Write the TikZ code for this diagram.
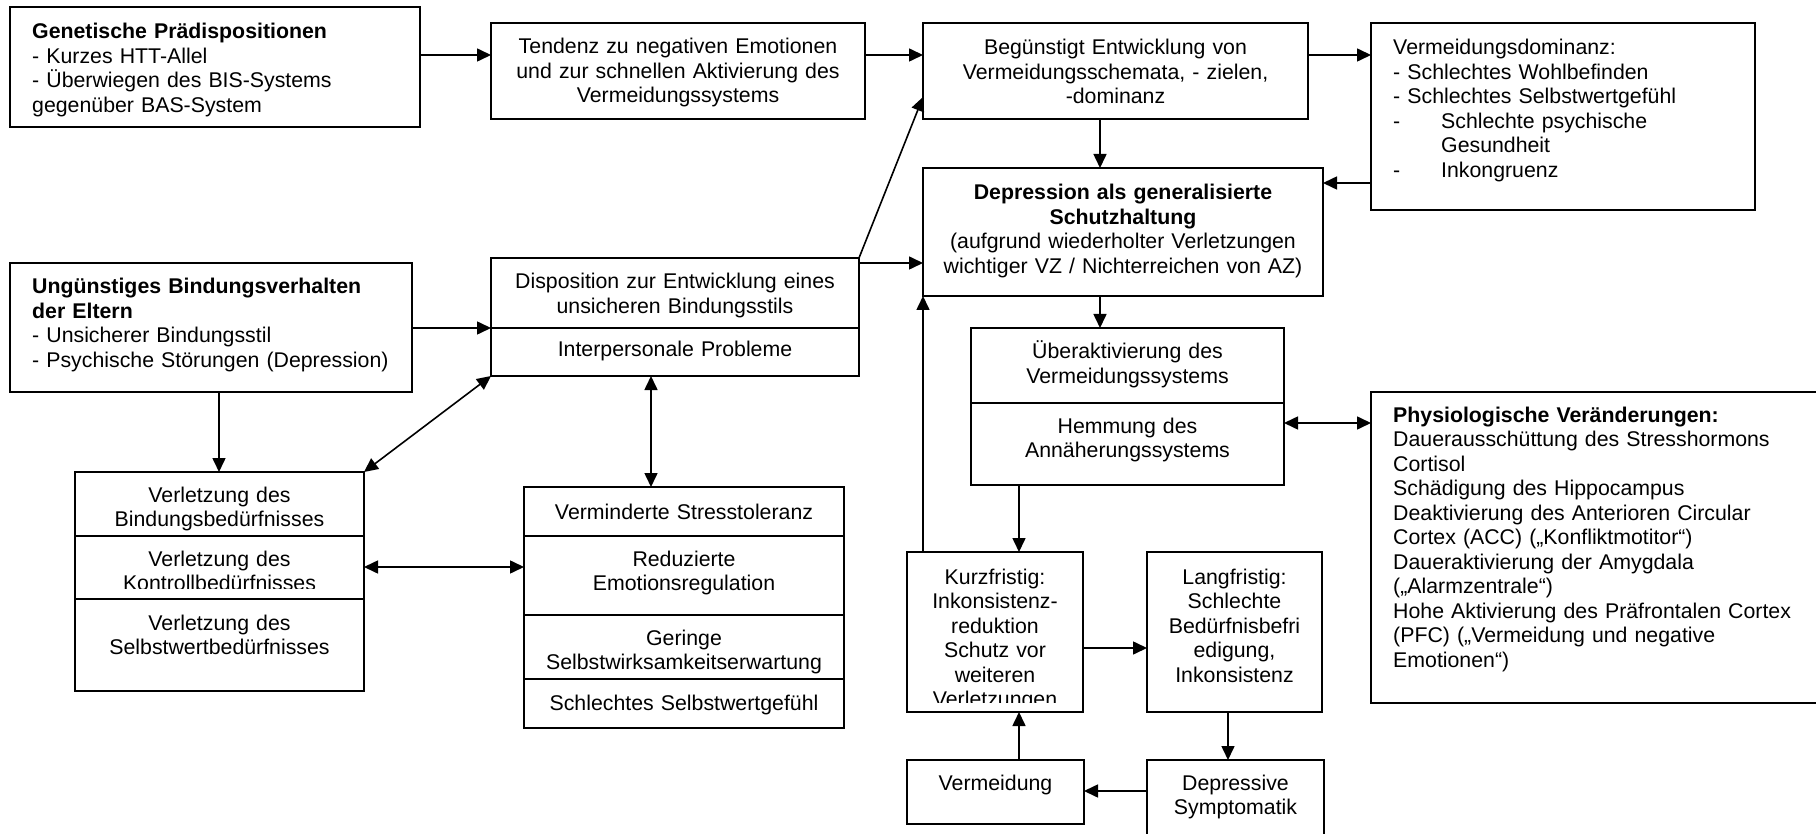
\documentclass[tikz,border=0pt]{standalone}
\usepackage{fontspec}
\setmainfont{Liberation Sans}
\usetikzlibrary{arrows.meta,fit}
\hyphenpenalty=10000
\exhyphenpenalty=10000
\begin{document}
\begin{tikzpicture}[x=1pt,y=-1pt,
  bx/.style={draw, line width=2pt, inner sep=0pt, outer sep=0pt},
  ctxt/.style={inner sep=0pt, anchor=base, align=center, text width=#1},
  ltxt/.style={inner sep=0pt, anchor=base west, align=left, text width=#1},
  arr/.style={line width=1.6pt, -{Triangle[length=14pt,width=13pt]}},
  darr/.style={line width=1.6pt, {Triangle[length=14pt,width=13pt]}-{Triangle[length=14pt,width=13pt]}},
  font=\fontsize{21.3}{24.5}\selectfont]
\path[use as bounding box] (0,0) rectangle (1816,834);
\fill[white] (0,0) rectangle (1816,834);
\clip (0,0) rectangle (1816,834);

% helper coordinates
\coordinate (h55) at (0,55);
\coordinate (h97) at (0,97);
\coordinate (h183) at (0,183);
\coordinate (h263) at (0,263);
\coordinate (h328) at (0,328);
\coordinate (h423) at (0,423);
\coordinate (h567) at (0,567);
\coordinate (h648) at (0,648);
\coordinate (h791) at (0,791);
\coordinate (v219) at (219,0);
\coordinate (v651) at (651,0);
\coordinate (v923) at (923,0);
\coordinate (v1019) at (1019,0);
\coordinate (v1100) at (1100,0);
\coordinate (v1228) at (1228,0);

% boxes
\node[bx, fit={(10,7) (420,127)}] (gen) {};
\node[bx, fit={(491,23) (865,119)}] (tend) {};
\node[bx, fit={(923,23) (1308,119)}] (beg) {};
\node[bx, fit={(1371,23) (1755,210)}] (vd) {};
\node[bx, fit={(923,168) (1323,296)}] (dep) {};
\node[bx, fit={(10,263) (412,392)}] (ung) {};
\node[bx, fit={(491,258) (859,328)}] (disp) {};
\node[bx, fit={(491,328) (859,376)}] (inter) {};
\node[bx, fit={(971,328) (1284,403)}] (ueb) {};
\node[bx, fit={(971,403) (1284,485)}] (hemm) {};
\node[bx, fit={(1371,392) (1820,703)}] (phys) {};
\node[bx, fit={(75,472) (364,536)}] (verlA) {};
\node[bx, fit={(75,536) (364,599)}] (verlB) {};
\node[bx, fit={(75,599) (364,691)}] (verlC) {};
\node[bx, fit={(524,487) (844,536)}] (vmA) {};
\node[bx, fit={(524,536) (844,615)}] (vmB) {};
\node[bx, fit={(524,615) (844,679)}] (vmC) {};
\node[bx, fit={(524,679) (844,728)}] (vmD) {};
\node[bx, fit={(907,552) (1083,712)}] (kurz) {};
\node[bx, fit={(1147,552) (1322,712)}] (lang) {};
\node[bx, fit={(907,760) (1084,824)}] (verm) {};
\node[bx, fit={(1147,760) (1324,840)}] (depr) {};

% texts
\node[ltxt=385pt] (gent) at (32,39) {\textbf{Genetische Prädispositionen}\\- Kurzes HTT-Allel\\- Überwiegen des BIS-Systems\\gegenüber BAS-System};
\node[ctxt=370pt] (tendt) at (678,54) {Tendenz zu negativen Emotionen\\und zur schnellen Aktivierung des\\Vermeidungssystems};
\node[ctxt=380pt] (begt) at (1115.5,55) {Begünstigt Entwicklung von\\Vermeidungsschemata, - zielen,\\-dominanz};
\node[ltxt=360pt] (vdt) at (1393,55) {Vermeidungsdominanz:\\- Schlechtes Wohlbefinden\\- Schlechtes Selbstwertgefühl\\\makebox[48pt][l]{-}Schlechte psychische\\\hspace*{48pt}Gesundheit\\\makebox[48pt][l]{-}Inkongruenz};
\node[ctxt=396pt] (dept) at (1123,200) {\textbf{Depression als generalisierte}\\\textbf{Schutzhaltung}\\(aufgrund wiederholter Verletzungen\\wichtiger VZ / Nichterreichen von AZ)};
\node[ltxt=378pt] (ungt) at (32,294) {\textbf{Ungünstiges Bindungsverhalten}\\\textbf{der Eltern}\\- Unsicherer Bindungsstil\\- Psychische Störungen (Depression)};
\node[ctxt=364pt] (dispt) at (675,289) {Disposition zur Entwicklung eines\\unsicheren Bindungsstils};
\node[ctxt=364pt] (intert) at (675,357) {Interpersonale Probleme};
\node[ctxt=309pt] (uebt) at (1127.5,359) {Überaktivierung des\\Vermeidungssystems};
\node[ctxt=309pt] (hemmt) at (1127.5,433) {Hemmung des\\Annäherungssystems};
\node[ltxt=420pt] (physt) at (1393,422) {\textbf{Physiologische Veränderungen:}\\Dauerausschüttung des Stresshormons\\Cortisol\\Schädigung des Hippocampus\\Deaktivierung des Anterioren Circular\\Cortex (ACC) („Konfliktmotitor“)\\Daueraktivierung der Amygdala\\(„Alarmzentrale“)\\Hohe Aktivierung des Präfrontalen Cortex\\(PFC) („Vermeidung und negative\\Emotionen“)};
\node[ctxt=285pt] (verlAt) at (219.5,502) {Verletzung des\\Bindungsbedürfnisses};
\begin{scope}
\clip (75,536) rectangle (364,588);
\node[ctxt=285pt] (verlBt) at (219.5,566) {Verletzung des\\Kontrollbedürfnisses};
\end{scope}
\node[ctxt=285pt] (verlCt) at (219.5,630) {Verletzung des\\Selbstwertbedürfnisses};
\node[ctxt=316pt] (vmAt) at (684,519) {Verminderte Stresstoleranz};
\node[ctxt=316pt] (vmBt) at (684,566) {Reduzierte\\Emotionsregulation};
\node[ctxt=316pt] (vmCt) at (684,645) {Geringe\\Selbstwirksamkeitserwartung};
\node[ctxt=316pt] (vmDt) at (684,710) {Schlechtes Selbstwertgefühl};
\begin{scope}
\clip (907,552) rectangle (1083,702);
\node[ctxt=172pt] (kurzt) at (995,584) {Kurzfristig:\\Inkonsistenz-\\reduktion\\Schutz vor\\weiteren\\Verletzungen};
\end{scope}
\node[ctxt=171pt] (langt) at (1234.5,584) {Langfristig:\\Schlechte\\Bedürfnisbefri\\edigung,\\Inkonsistenz};
\node[ctxt=173pt] (vermt) at (995.5,790) {Vermeidung};
\node[ctxt=173pt] (deprt) at (1235.5,790) {Depressive\\Symptomatik};

% connectors
\draw[arr] (gen.east |- h55) -- (tend.west |- h55);
\draw[arr] (tend.east |- h55) -- (beg.west |- h55);
\draw[arr] (beg.east |- h55) -- (vd.west |- h55);
\draw[arr] (beg.south -| v1100) -- (dep.north -| v1100);
\draw[arr] (vd.west |- h183) -- (dep.east |- h183);
\draw[arr] (ung.east |- h328) -- (disp.west |- h328);
\draw[arr] (disp.east |- h263) -- (dep.west |- h263);
\draw[arr] (disp.north east) -- (beg.west |- h97);
\draw[arr] (ung.south -| v219) -- (verlA.north -| v219);
\draw[darr] (inter.south west) -- (verlA.north east);
\draw[darr] (inter.south -| v651) -- (vmA.north -| v651);
\draw[darr] (verlB.east |- h567) -- (vmB.west |- h567);
\draw[arr] (dep.south -| v1100) -- (ueb.north -| v1100);
\draw[darr] (hemm.east |- h423) -- (phys.west |- h423);
\draw[arr] (hemm.south -| v1019) -- (kurz.north -| v1019);
\draw[arr] (kurz.north -| v923) -- (dep.south -| v923);
\draw[arr] (kurz.east |- h648) -- (lang.west |- h648);
\draw[arr] (lang.south -| v1228) -- (depr.north -| v1228);
\draw[arr] (depr.west |- h791) -- (verm.east |- h791);
\draw[arr] (verm.north -| v1019) -- (kurz.south -| v1019);
\end{tikzpicture}
\end{document}
